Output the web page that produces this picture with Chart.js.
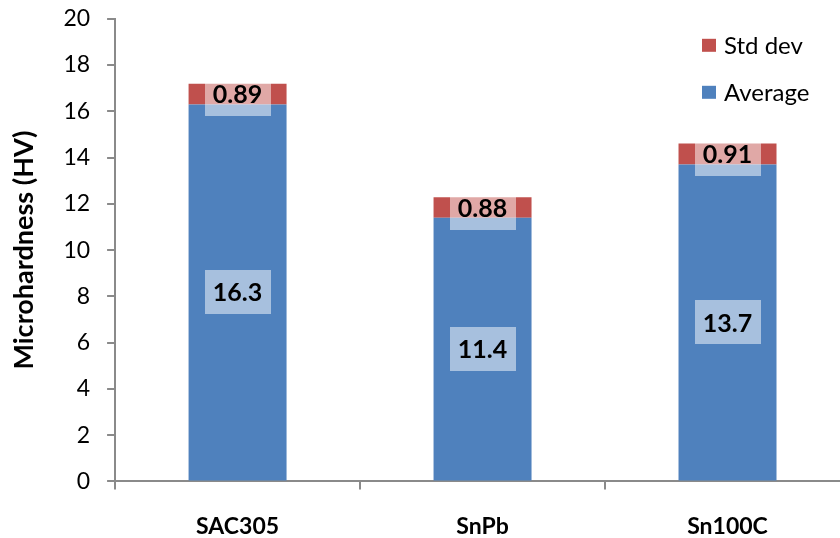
<!DOCTYPE html>
<html>
<head>
<meta charset="utf-8">
<script src="https://cdn.jsdelivr.net/npm/chart.js@4/dist/chart.umd.min.js"></script>
<style>
  html, body { margin: 0; padding: 0; background: #fff; overflow: hidden; }
  #wrap { position: relative; width: 858px; height: 550px; margin-top: -12px; }
</style>
</head>
<body>
<div id="wrap"><canvas id="chart"></canvas></div>
<script>
// Solder alloys and their measured Vickers microhardness
const categories = ['SAC305', 'SnPb', 'Sn100C'];
const averageValues = [16.3, 11.4, 13.7];
const stdDevValues = [0.89, 0.88, 0.91];
const yTickValues = [0, 2, 4, 6, 8, 10, 12, 14, 16, 18, 20];

const FONT = 'Lato, "Open Sans", sans-serif';
const AXIS_GREY = '#8a8a8a';
const BLUE = '#4F81BD';
const RED = '#C0504D';

// Value labels centred in each segment on a translucent white box
const valueBoxes = {
  id: 'valueBoxes',
  afterDatasetsDraw(chart) {
    const ctx = chart.ctx;
    ctx.save();
    chart.data.datasets.forEach((ds, i) => {
      const meta = chart.getDatasetMeta(i);
      meta.data.forEach((bar, j) => {
        const p = bar.getProps(['x', 'y', 'base'], true);
        const cy = (p.y + p.base) / 2;
        ctx.fillStyle = 'rgba(255,255,255,0.5)';
        ctx.fillRect(Math.round(p.x - 33), Math.round(cy - 22), 66, 44);
        ctx.fillStyle = '#000';
        ctx.font = 'bold 25px ' + FONT;
        ctx.textAlign = 'center';
        ctx.textBaseline = 'middle';
        ctx.fillText(String(ds.data[j]), p.x, cy + 1);
      });
    });
    ctx.restore();
  }
};

// Legend in the upper-right corner of the plot, top series listed first
const cornerLegend = {
  id: 'cornerLegend',
  afterDraw(chart) {
    const ctx = chart.ctx;
    const area = chart.chartArea;
    const items = chart.data.datasets.slice().reverse();
    ctx.save();
    ctx.font = '24px ' + FONT;
    ctx.textAlign = 'left';
    ctx.textBaseline = 'middle';
    items.forEach((ds, k) => {
      const cy = area.top + 27 + k * 47;
      const sx = area.right - 148;
      ctx.fillStyle = ds.backgroundColor;
      ctx.fillRect(sx, cy - 7, 14, 13);
      ctx.fillStyle = '#000';
      ctx.fillText(ds.label, sx + 22, cy);
    });
    ctx.restore();
  }
};

new Chart(document.getElementById('chart'), {
  type: 'bar',
  data: {
    labels: categories,
    datasets: [
      { label: 'Average', data: averageValues, backgroundColor: BLUE },
      { label: 'Std dev', data: stdDevValues, backgroundColor: RED }
    ]
  },
  options: {
    responsive: true,
    maintainAspectRatio: false,
    animation: false,
    datasets: { bar: { categoryPercentage: 0.8, barPercentage: 0.5 } },
    layout: { padding: { left: 8, right: 8, top: -3, bottom: -25 } },
    plugins: {
      legend: { display: false },
      tooltip: { enabled: false }
    },
    scales: {
      x: {
        stacked: true,
        offset: true,
        grid: { display: true, offset: true, drawOnChartArea: false, drawTicks: true, tickLength: 8, color: AXIS_GREY, lineWidth: 2 },
        border: { display: true, color: AXIS_GREY, width: 2 },
        ticks: { color: '#000', font: { family: FONT, size: 23, weight: 'bold' }, padding: 23 }
      },
      y: {
        stacked: true,
        min: 0,
        max: 20,
        afterBuildTicks(scale) { scale.ticks = yTickValues.map(v => ({ value: v })); },
        grid: { display: true, drawOnChartArea: false, drawTicks: true, tickLength: 8, color: AXIS_GREY, lineWidth: 2 },
        border: { display: true, color: AXIS_GREY, width: 2 },
        ticks: { color: '#000', font: { family: FONT, size: 23 }, padding: 17 },
        title: { display: true, text: 'Microhardness (HV)', color: '#000', font: { family: FONT, size: 27, weight: 'bold' }, padding: { top: 0, bottom: 6 } }
      }
    }
  },
  plugins: [valueBoxes, cornerLegend]
});
</script>
</body>
</html>
